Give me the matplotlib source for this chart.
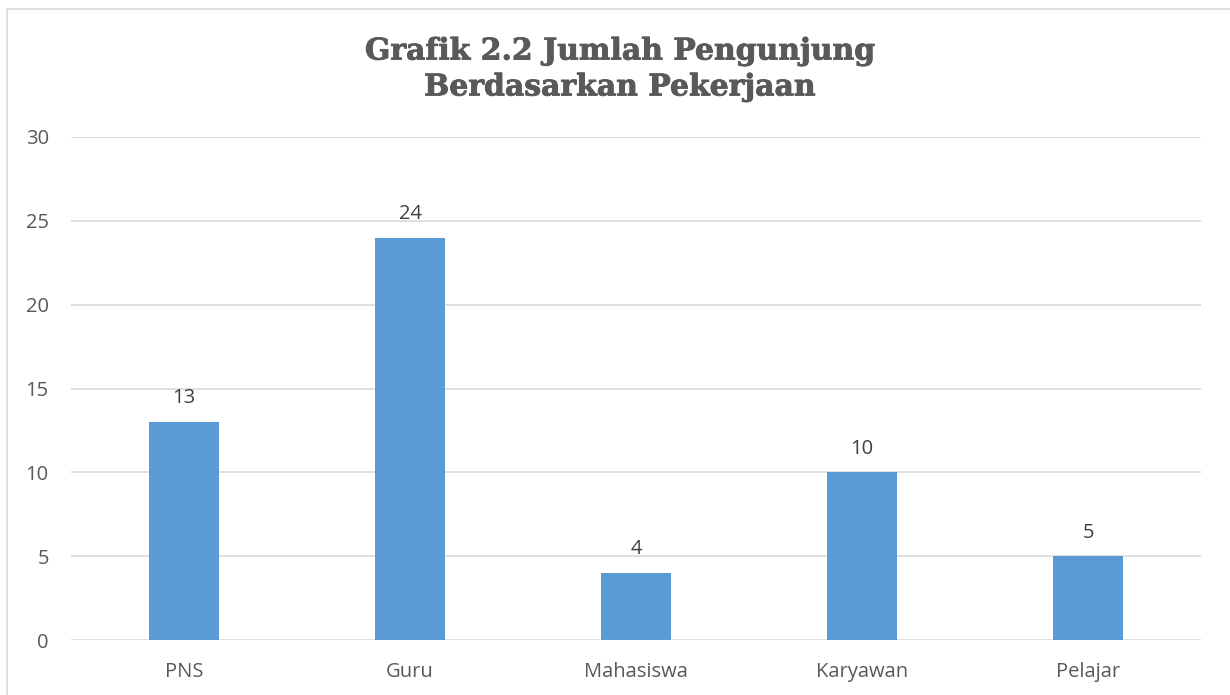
import matplotlib
matplotlib.use("Agg")
import matplotlib.pyplot as plt
from matplotlib.patches import Rectangle
import matplotlib.patheffects as pe

categories = ["PNS", "Guru", "Mahasiswa", "Karyawan", "Pelajar"]
values = [13, 24, 4, 10, 5]
yticks = [0, 5, 10, 15, 20, 25, 30]
title = "Grafik 2.2 Jumlah Pengunjung\nBerdasarkan Pekerjaan"

W, H = 1230, 695
fig = plt.figure(figsize=(W / 100, H / 100), dpi=100)
fig.patch.set_facecolor("white")

# outer chart border (right and bottom edges fall outside the image)
fig.patches.append(Rectangle((7 / W, -0.05), 1.1, (H - 9) / H + 0.05,
                             transform=fig.transFigure, fill=False,
                             edgecolor="#d9d9d9", linewidth=1.2))

ax = fig.add_axes([71 / W, (H - 640) / H, (1201 - 71) / W, (640 - 137) / H])
x = range(len(categories))
bars = ax.bar(x, values, width=0.314, color="#5b9bd5", zorder=3)
ax.set_xlim(-0.5, len(categories) - 0.5)
ax.set_ylim(0, 30)
ax.set_yticks(yticks)
ax.set_xticks(list(x))
ax.set_xticklabels(categories)
for s in ax.spines.values():
    s.set_visible(False)
ax.grid(axis="y", color="#d9d9d9", linewidth=1.2, zorder=0)
ax.tick_params(length=0, labelsize=14.5, labelcolor="#595959")
ax.tick_params(axis="y", pad=16)
ax.tick_params(axis="x", pad=16)
for lab in ax.get_xticklabels() + ax.get_yticklabels():
    lab.set_fontfamily("Open Sans")

for b, v in zip(bars, values):
    ax.annotate(str(v), (b.get_x() + b.get_width() / 2, v), xytext=(0, 17),
                textcoords="offset points", ha="center", va="center",
                fontsize=14.5, color="#404040", fontfamily="Open Sans")

fig.text(620 / W, 1 - 69 / H, title, ha="center", va="center",
         fontsize=21.5, fontweight="bold", color="#595959",
         fontfamily="DejaVu Serif", linespacing=1.3,
         path_effects=[pe.withStroke(linewidth=0.6, foreground="#595959")])

fig.savefig("out.png", dpi=100)
